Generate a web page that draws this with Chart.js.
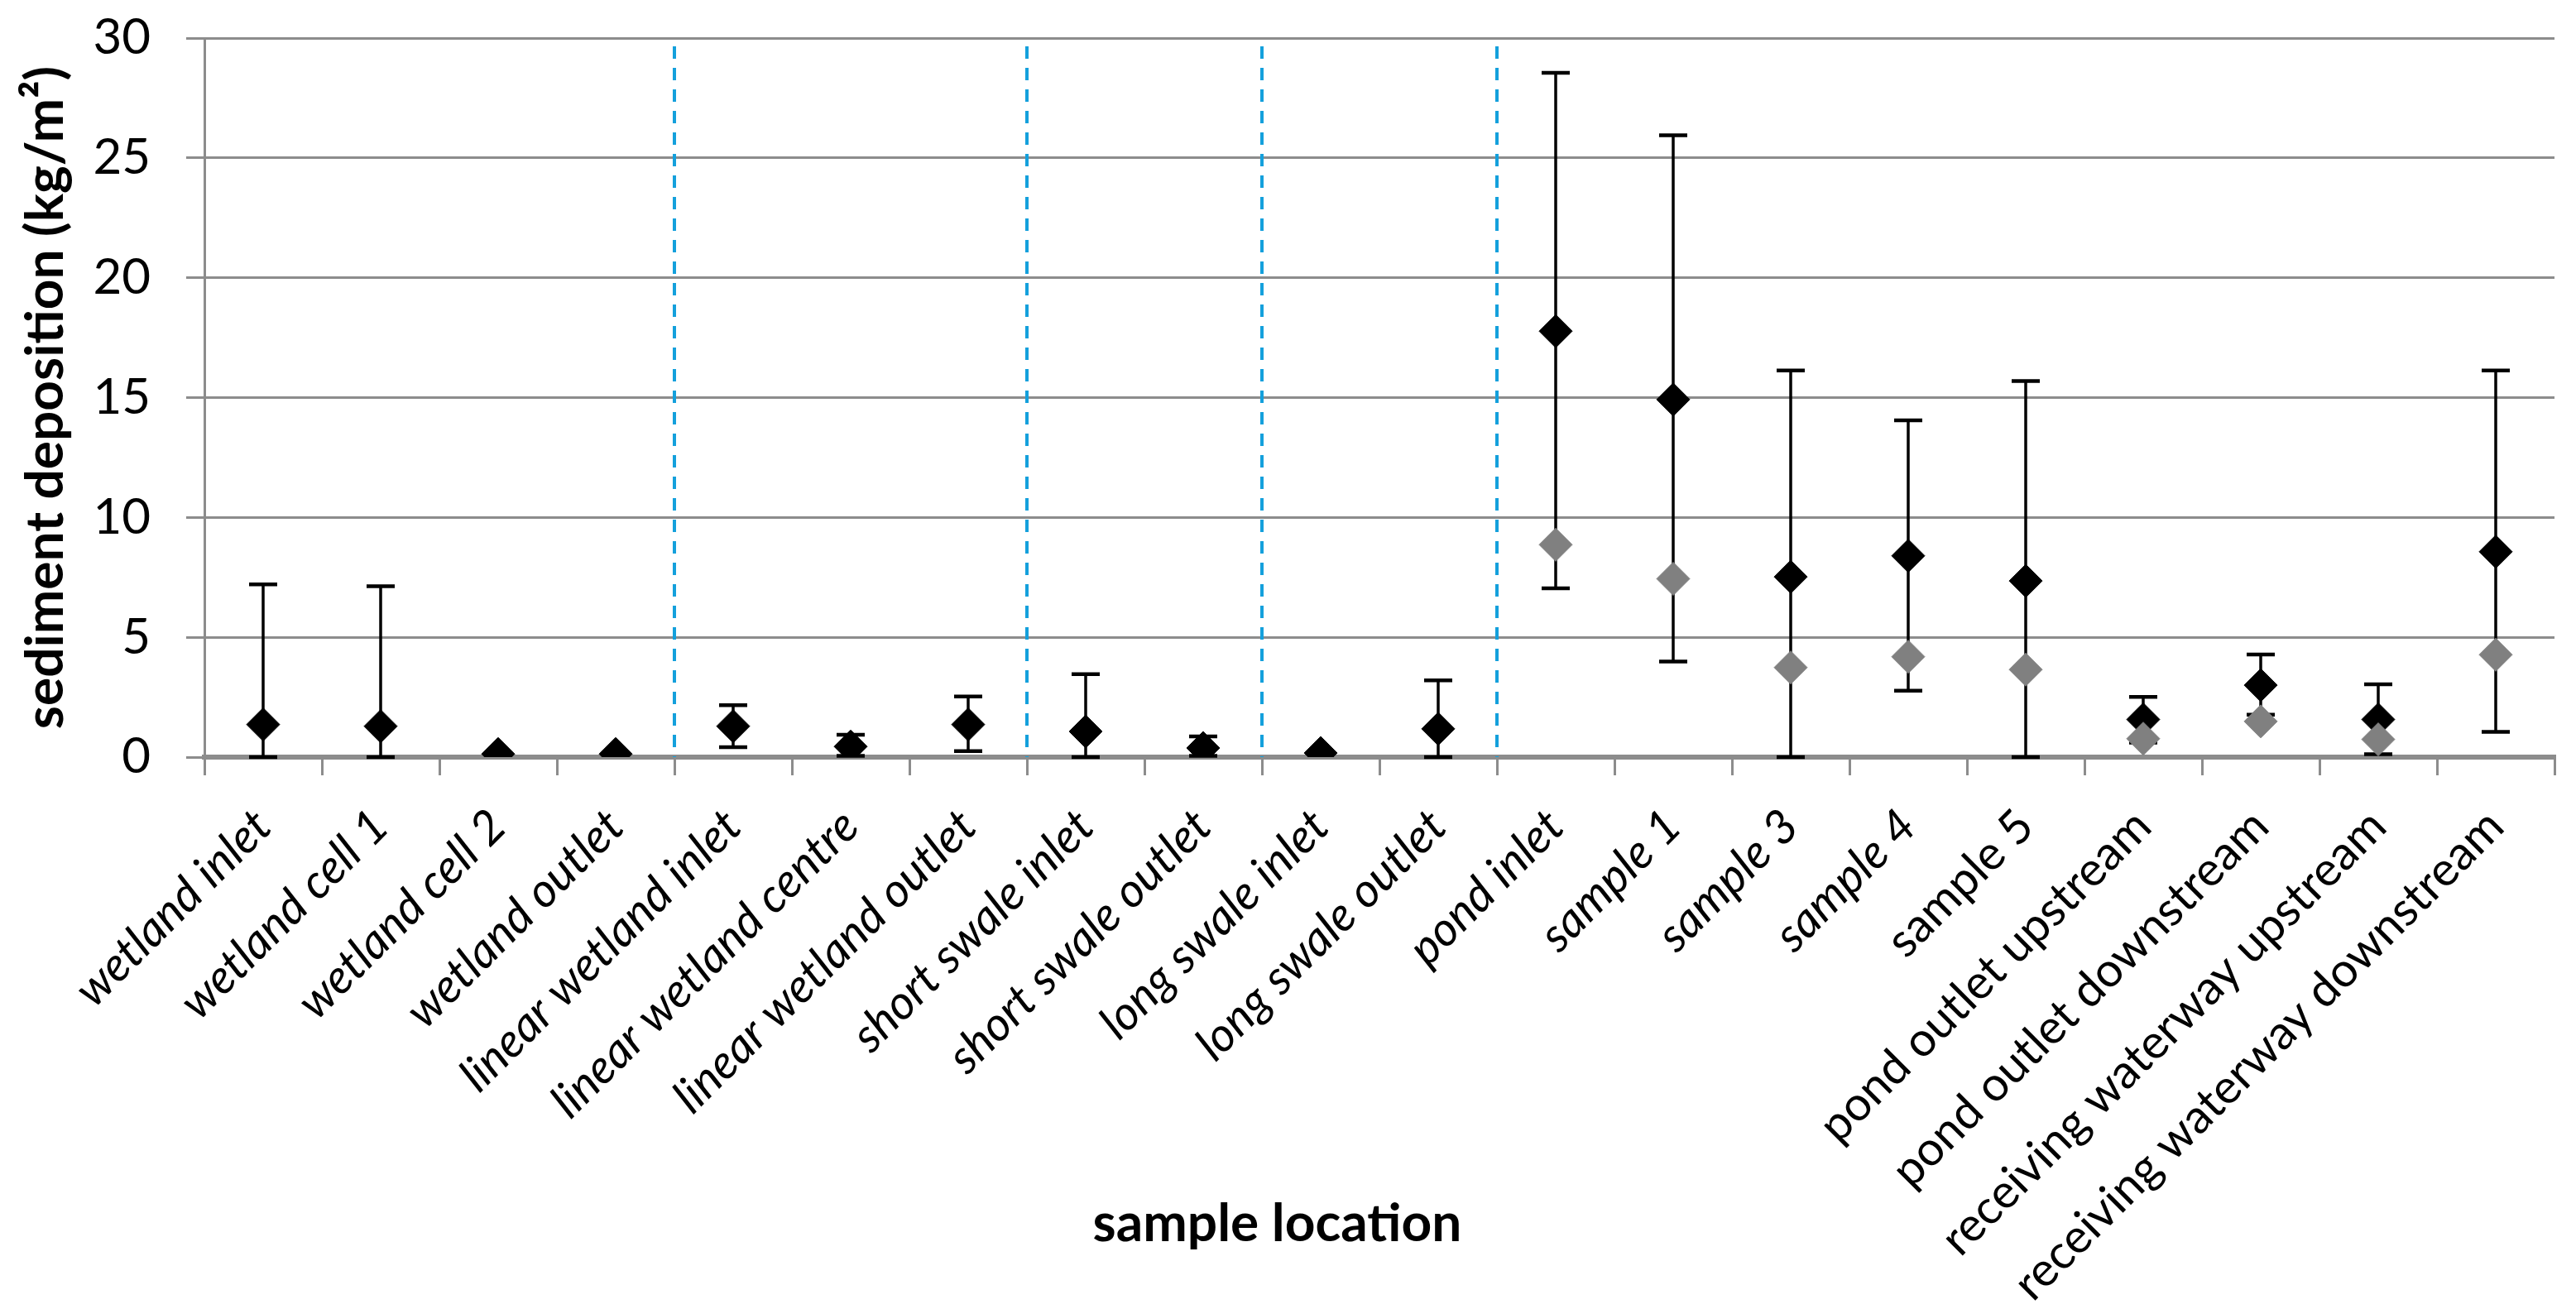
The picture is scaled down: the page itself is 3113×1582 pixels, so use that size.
<!DOCTYPE html>
<html>
<head>
    <title>sediment deposition</title>
    <script src="https://cdn.jsdelivr.net/npm/chart.js@4.4.1/dist/chart.umd.min.js"></script>
    <style>
        body { margin: 0; background: #fff; }
        .chart-container { width: 3113px; height: 1582px; position: relative; }
    </style>
</head>
<body>
    <div class="chart-container">
        <canvas id="sedimentChart"></canvas>
    </div>

    <script>
        // sample locations (x axis)
        const categories = [
            'wetland inlet', 'wetland cell 1', 'wetland cell 2', 'wetland outlet',
            'linear wetland inlet', 'linear wetland centre', 'linear wetland outlet',
            'short swale inlet', 'short swale outlet',
            'long swale inlet', 'long swale outlet',
            'pond inlet', 'sample 1', 'sample 3', 'sample 4', 'sample 5',
            'pond outlet upstream', 'pond outlet downstream',
            'receiving waterway upstream', 'receiving waterway downstream'
        ];

        // black diamonds
        const blackValues = [1.36, 1.29, 0.13, 0.13, 1.29, 0.44, 1.36, 1.07, 0.38, 0.17, 1.18,
                             17.77, 14.92, 7.52, 8.40, 7.35, 1.57, 3.00, 1.57, 8.57];
        // grey diamonds
        const greyValues = [null, null, null, null, null, null, null, null, null, null, null,
                            8.86, 7.44, 3.74, 4.19, 3.65, 0.77, 1.49, 0.74, 4.27];
        // error bar ends (black series)
        const errLow = [0, 0, null, null, 0.41, 0.05, 0.25, 0, 0.05, null, 0,
                        7.04, 3.99, 0, 2.77, 0, 0.6, 1.77, 0.12, 1.05];
        const errHigh = [7.21, 7.13, null, null, 2.17, 0.93, 2.53, 3.46, 0.86, null, 3.20,
                         28.55, 25.94, 16.13, 14.05, 15.69, 2.51, 4.28, 3.04, 16.13];

        // y axis ticks
        const yTicks = [0, 5, 10, 15, 20, 25, 30];

        // dashed separators come after these locations
        const groupEnds = ['wetland outlet', 'linear wetland outlet', 'short swale outlet', 'long swale outlet'];
        // labels up to this one are set in italics
        const lastItalic = 'sample 4';

        const gridGrey = '#8c8c8c';
        const fontFamily = 'Lato, "Open Sans", sans-serif';

        // error bars, drawn under the markers
        const errorBars = {
            id: 'errorBars',
            beforeDatasetsDraw(chart) {
                const { ctx } = chart;
                const x = chart.scales.x, y = chart.scales.y;
                ctx.save();
                ctx.strokeStyle = '#000';
                errHigh.forEach((hi, i) => {
                    const lo = errLow[i];
                    if (hi === null || lo === null) return;
                    const px = x.getPixelForValue(i);
                    const yHi = y.getPixelForValue(hi);
                    const yLo = y.getPixelForValue(lo);
                    ctx.lineWidth = 3.5;
                    ctx.beginPath();
                    ctx.moveTo(px, yHi);
                    ctx.lineTo(px, yLo);
                    ctx.stroke();
                    ctx.lineWidth = 4.5;
                    ctx.beginPath();
                    ctx.moveTo(px - 17, yHi);
                    ctx.lineTo(px + 17, yHi);
                    ctx.moveTo(px - 17, yLo);
                    ctx.lineTo(px + 17, yLo);
                    ctx.stroke();
                });
                ctx.restore();
            }
        };

        // blue dashed lines between the groups
        const groupLines = {
            id: 'groupLines',
            beforeDatasetsDraw(chart) {
                const { ctx, chartArea } = chart;
                const x = chart.scales.x;
                ctx.save();
                ctx.strokeStyle = '#14a0dc';
                ctx.lineWidth = 4;
                ctx.setLineDash([15, 11]);
                groupEnds.forEach(name => {
                    const i = categories.indexOf(name);
                    const px = (x.getPixelForValue(i) + x.getPixelForValue(i + 1)) / 2;
                    ctx.beginPath();
                    ctx.moveTo(px, chartArea.top + 10);
                    ctx.lineTo(px, chartArea.bottom);
                    ctx.stroke();
                });
                ctx.restore();
            }
        };

        const italicUpTo = categories.indexOf(lastItalic);

        new Chart(document.getElementById('sedimentChart'), {
            type: 'line',
            data: {
                labels: categories,
                datasets: [
                    {
                        label: 'grey',
                        data: greyValues,
                        showLine: false,
                        pointStyle: 'rectRot',
                        pointRadius: 20,
                        pointBackgroundColor: '#808080',
                        pointBorderColor: '#808080',
                        pointBorderWidth: 1,
                        order: 0
                    },
                    {
                        label: 'black',
                        data: blackValues,
                        showLine: false,
                        pointStyle: 'rectRot',
                        pointRadius: 20,
                        pointBackgroundColor: '#000',
                        pointBorderColor: '#000',
                        pointBorderWidth: 1,
                        order: 1
                    }
                ]
            },
            options: {
                responsive: true,
                maintainAspectRatio: false,
                animation: false,
                layout: { padding: { top: 46, right: 26, left: 0, bottom: 0 } },
                plugins: {
                    legend: { display: false },
                    tooltip: { enabled: false },
                    title: {
                        // almost no box height, so the rotated labels are not cut off
                        display: true,
                        position: 'bottom',
                        text: 'sample location',
                        color: '#000',
                        font: { family: fontFamily, size: 64, weight: 'bold', lineHeight: 0.5 },
                        padding: { top: -117, bottom: 87 }
                    }
                },
                scales: {
                    x: {
                        offset: true,
                        grid: {
                            offset: true,
                            drawOnChartArea: false,
                            tickLength: 22,
                            color: gridGrey,
                            lineWidth: 3
                        },
                        border: { color: gridGrey, width: 6 },
                        ticks: {
                            autoSkip: false,
                            minRotation: 45,
                            maxRotation: 45,
                            padding: 28,
                            color: '#000',
                            font: (c) => ({
                                family: fontFamily,
                                size: 57,
                                style: c.index <= italicUpTo ? 'italic' : 'normal'
                            })
                        },
                        afterFit(scale) {
                            scale.height = 665;
                            scale.paddingLeft = 0;
                            scale.paddingRight = 0;
                        }
                    },
                    y: {
                        min: 0,
                        max: 30,
                        afterBuildTicks(scale) { scale.ticks = yTicks.map(v => ({ value: v })); },
                        grid: { color: gridGrey, lineWidth: 3, tickLength: 22 },
                        border: { color: gridGrey, width: 3 },
                        ticks: {
                            padding: 43,
                            color: '#000',
                            font: { family: fontFamily, size: 60 }
                        },
                        title: {
                            display: true,
                            text: 'sediment deposition (kg/m\u00b2)',
                            color: '#000',
                            font: { family: fontFamily, size: 64, weight: 'bold' },
                            padding: { top: 17, bottom: 0 }
                        },
                        afterFit(scale) {
                            scale.width = 247;
                            scale.paddingTop = 0;
                            scale.paddingBottom = 0;
                        }
                    }
                }
            },
            plugins: [groupLines, errorBars]
        });
    </script>
</body>
</html>
